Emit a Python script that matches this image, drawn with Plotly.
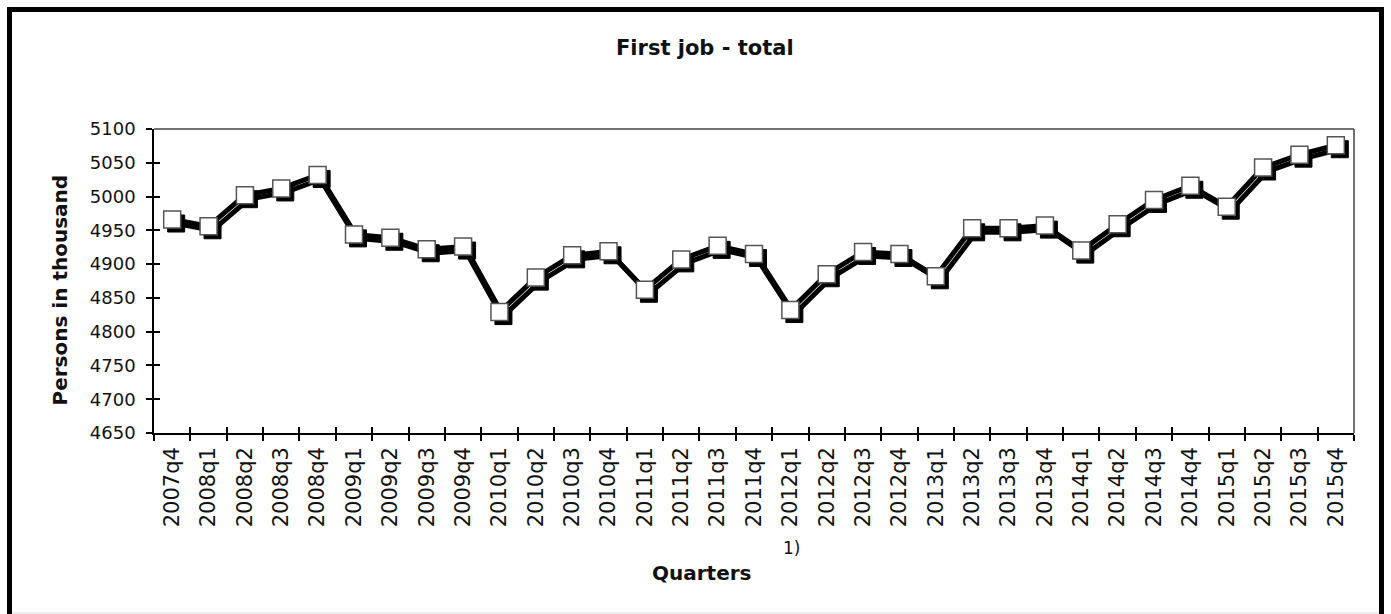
import plotly.graph_objects as go

quarters = ['2007q4',
            '2008q1', '2008q2', '2008q3', '2008q4',
            '2009q1', '2009q2', '2009q3', '2009q4',
            '2010q1', '2010q2', '2010q3', '2010q4',
            '2011q1', '2011q2', '2011q3', '2011q4',
            '2012q1', '2012q2', '2012q3', '2012q4',
            '2013q1', '2013q2', '2013q3', '2013q4',
            '2014q1', '2014q2', '2014q3', '2014q4',
            '2015q1', '2015q2', '2015q3', '2015q4']
persons = [4966,
           4956, 5002, 5012, 5032,
           4944, 4939, 4922, 4926,
           4829, 4880, 4913, 4919,
           4862, 4907, 4927, 4915,
           4832, 4885, 4918, 4915,
           4882, 4953, 4953, 4957,
           4920, 4959, 4995, 5016,
           4985, 5043, 5062, 5076]
y_ticks = [4650, 4700, 4750, 4800, 4850, 4900, 4950, 5000, 5050, 5100]

W, H = 1391, 614
L, R, T, B = 154, 1354, 129, 433
FONT = "DejaVu Sans"

def px(x):
    return (x - L) / (R - L)

def py(y):
    return (B - y) / (B - T)

n = len(quarters)
ymin, ymax = y_ticks[0], y_ticks[-1]
shadow_px = 4
dx = shadow_px / ((R - L) / n)
dy = shadow_px * (ymax - ymin) / (B - T)

fig = go.Figure()

# base axes trace (transparent, just to establish categories)
fig.add_trace(go.Scatter(x=quarters, y=persons, mode='lines',
                         line=dict(color='rgba(0,0,0,0)', width=0),
                         hoverinfo='skip', showlegend=False,
                         xaxis='x', yaxis='y'))
# shadow
fig.add_trace(go.Scatter(x=quarters, y=persons, mode='lines+markers',
                         line=dict(color='black', width=5),
                         marker=dict(symbol='square', size=17, color='black',
                                     line=dict(color='black', width=1)),
                         hoverinfo='skip', showlegend=False,
                         xaxis='x2', yaxis='y2'))
# main series
fig.add_trace(go.Scatter(x=quarters, y=persons, mode='lines+markers',
                         line=dict(color='black', width=5),
                         marker=dict(symbol='square', size=17, color='white',
                                     line=dict(color='#555555', width=1.5)),
                         showlegend=False, name='First job - total',
                         xaxis='x3', yaxis='y3'))

axis_common = dict(showgrid=False, zeroline=False)

fig.update_layout(
    width=W, height=H,
    margin=dict(l=L, r=W - R, t=T, b=H - B, pad=0),
    paper_bgcolor='white', plot_bgcolor='white',
    font=dict(family=FONT, color='#111111'),
    xaxis=dict(type='category', categoryorder='array', categoryarray=quarters,
               range=[-0.5, n - 0.5], tickson='boundaries',
               ticks='outside', ticklen=6, tickwidth=1.5, tickcolor='black',
               showline=True, linecolor='black', linewidth=1.5,
               tickangle=-90, ticklabelstandoff=4,
               tickfont=dict(family=FONT, size=21, color='#111111'),
               **axis_common),
    yaxis=dict(range=[ymin, ymax], tickvals=y_ticks,
               ticks='outside', ticklen=6, tickwidth=1.5, tickcolor='black',
               showline=True, linecolor='black', linewidth=1.5,
               ticklabelstandoff=7,
               tickfont=dict(family=FONT, size=18, color='#111111'),
               **axis_common),
    xaxis2=dict(type='category', categoryorder='array', categoryarray=quarters,
                range=[-0.5 - dx, n - 0.5 - dx], overlaying='x', visible=False,
                **axis_common),
    yaxis2=dict(range=[ymin + dy, ymax + dy], overlaying='y', visible=False,
                **axis_common),
    xaxis3=dict(type='category', categoryorder='array', categoryarray=quarters,
                range=[-0.5, n - 0.5], overlaying='x', tickson='boundaries',
                ticks='inside', ticklen=6, tickwidth=1.5, tickcolor='black',
                showticklabels=False, showline=False, **axis_common),
    yaxis3=dict(range=[ymin, ymax], tickvals=y_ticks, overlaying='y',
                ticks='inside', ticklen=6, tickwidth=1.5, tickcolor='black',
                showticklabels=False, showline=False, **axis_common),
    shapes=[
        # top & right plot border
        dict(type='line', xref='paper', yref='paper', x0=0, x1=1, y0=1, y1=1,
             line=dict(color='#444444', width=1.5)),
        dict(type='line', xref='paper', yref='paper', x0=1, x1=1, y0=0, y1=1,
             line=dict(color='#444444', width=1.5)),
        # outer frame
        dict(type='rect', xref='paper', yref='paper',
             x0=px(9.5), x1=px(1381.5), y0=py(640), y1=py(9.5),
             line=dict(color='black', width=5)),
        # faint bottom edge
        dict(type='line', xref='paper', yref='paper',
             x0=px(12), x1=px(1379), y0=py(613), y1=py(613),
             line=dict(color='#dddddd', width=1)),
    ],
    annotations=[
        dict(text='<b>First job - total</b>', xref='paper', yref='paper',
             x=px(705), y=py(48), showarrow=False, xanchor='center', yanchor='middle',
             font=dict(family=FONT, size=21, color='#111111')),
        dict(text='<b>Persons in thousand</b>', xref='paper', yref='paper',
             x=px(59.5), y=py(290), showarrow=False, textangle=-90,
             xanchor='center', yanchor='middle',
             font=dict(family=FONT, size=20, color='#111111')),
        dict(text='<b>Quarters</b>', xref='paper', yref='paper',
             x=px(702), y=py(573), showarrow=False, xanchor='center', yanchor='middle',
             font=dict(family=FONT, size=20, color='#111111')),
        dict(text='1)', xref='paper', yref='paper',
             x=px(791), y=py(548), showarrow=False, xanchor='center', yanchor='middle',
             font=dict(family=FONT, size=17, color='#111111')),
    ],
)

fig.write_html("out.html", config={'displayModeBar': False},
               post_script="document.body.style.margin='0px';")
